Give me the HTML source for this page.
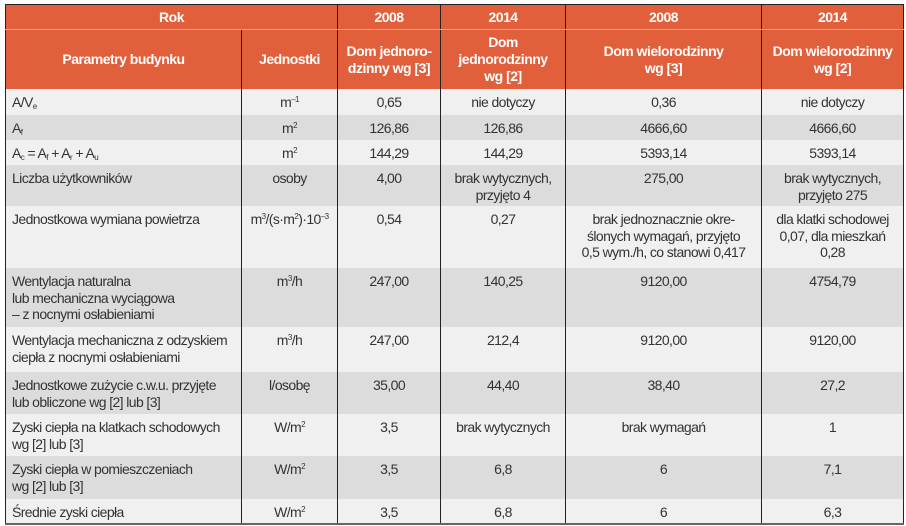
<!DOCTYPE html>
<html><head><meta charset="utf-8"><style>
html,body{margin:0;padding:0;background:#fff;width:906px;height:526px;overflow:hidden}
table{position:absolute;left:5px;top:4px;border-collapse:collapse;table-layout:fixed;width:898px;font-family:"Liberation Sans",Arial,sans-serif;font-size:14px;color:#333;letter-spacing:-0.6px}
td,th{padding:0 6px;border-left:1px solid #222;border-right:1px solid #222;vertical-align:top;line-height:16.5px}
th{background:#e1603b;color:#fff;font-weight:bold;vertical-align:middle;text-align:center;line-height:17px;font-size:14px;letter-spacing:-0.5px}
tr.h1 th{height:24px;border-bottom:1px solid #f0a080;padding:0}
tr.h2 th{height:59px}
td{text-align:center;padding-top:5px}
td:first-child{text-align:left}
tr.l td{background:#f0f0f0}
tr.d td{background:#dcdcdc}
table{border:1px solid #222;border-bottom:2px solid #666}
sub{font-size:8px;vertical-align:-2px;line-height:0}
sup{font-size:8px;vertical-align:5px;line-height:0}
</style></head><body>
<table>
<colgroup><col style="width:236px"><col style="width:96px"><col style="width:103px"><col style="width:125px"><col style="width:196px"><col style="width:142px"></colgroup>
<tr class="h1"><th colspan="2">Rok</th><th>2008</th><th>2014</th><th>2008</th><th>2014</th></tr>
<tr class="h2"><th>Parametry budynku</th><th>Jednostki</th><th>Dom jednoro-<br>dzinny wg [3]</th><th>Dom<br>jednorodzinny<br>wg [2]</th><th>Dom wielorodzinny<br>wg [3]</th><th>Dom wielorodzinny<br>wg [2]</th></tr>
<tr class="l" style="height:26px"><td>A/V<sub>e</sub></td><td>m<sup>–1</sup></td><td>0,65</td><td>nie dotyczy</td><td>0,36</td><td>nie dotyczy</td></tr>
<tr class="d" style="height:25px"><td>A<sub>f</sub></td><td>m<sup>2</sup></td><td>126,86</td><td>126,86</td><td>4666,60</td><td>4666,60</td></tr>
<tr class="l" style="height:25px"><td>A<sub>c</sub> = A<sub>f</sub> + A<sub>r</sub> + A<sub>u</sub></td><td>m<sup>2</sup></td><td>144,29</td><td>144,29</td><td>5393,14</td><td>5393,14</td></tr>
<tr class="d" style="height:41px"><td>Liczba użytkowników</td><td>osoby</td><td>4,00</td><td>brak wytycznych,<br>przyjęto 4</td><td>275,00</td><td>brak wytycznych,<br>przyjęto 275</td></tr>
<tr class="l" style="height:62px"><td>Jednostkowa wymiana powietrza</td><td>m<sup>3</sup>/(s·m<sup>2</sup>)·10<sup>–3</sup></td><td>0,54</td><td>0,27</td><td>brak jednoznacznie okre-<br>ślonych wymagań, przyjęto<br>0,5 wym./h, co stanowi 0,417</td><td>dla klatki schodowej<br>0,07, dla mieszkań<br>0,28</td></tr>
<tr class="d" style="height:59px"><td>Wentylacja naturalna<br>lub mechaniczna wyciągowa<br>– z nocnymi osłabieniami</td><td>m<sup>3</sup>/h</td><td>247,00</td><td>140,25</td><td>9120,00</td><td>4754,79</td></tr>
<tr class="l" style="height:45px"><td>Wentylacja mechaniczna z odzyskiem<br>ciepła z nocnymi osłabieniami</td><td>m<sup>3</sup>/h</td><td>247,00</td><td>212,4</td><td>9120,00</td><td>9120,00</td></tr>
<tr class="d" style="height:42px"><td>Jednostkowe zużycie c.w.u. przyjęte<br>lub obliczone wg [2] lub [3]</td><td>l/osobę</td><td>35,00</td><td>44,40</td><td>38,40</td><td>27,2</td></tr>
<tr class="l" style="height:42px"><td>Zyski ciepła na klatkach schodowych<br>wg [2] lub [3]</td><td>W/m<sup>2</sup></td><td>3,5</td><td>brak wytycznych</td><td>brak wymagań</td><td>1</td></tr>
<tr class="d" style="height:43px"><td>Zyski ciepła w pomieszczeniach<br>wg [2] lub [3]</td><td>W/m<sup>2</sup></td><td>3,5</td><td>6,8</td><td>6</td><td>7,1</td></tr>
<tr class="l" style="height:25px"><td>Średnie zyski ciepła</td><td>W/m<sup>2</sup></td><td>3,5</td><td>6,8</td><td>6</td><td>6,3</td></tr>
</table>
</body></html>
